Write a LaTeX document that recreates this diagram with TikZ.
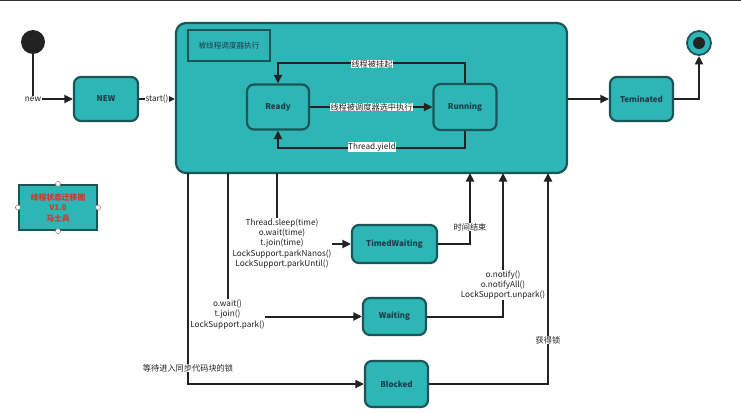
\documentclass[tikz,border=0pt]{standalone}
\usepackage{fontspec}
\setmainfont{Noto Sans CJK SC}
\usetikzlibrary{arrows.meta}
\definecolor{tealfill}{RGB}{46,182,182}
\definecolor{tealdark}{RGB}{26,86,88}
\definecolor{linec}{RGB}{34,34,34}
\definecolor{txtc}{RGB}{28,62,72}
\definecolor{redtxt}{RGB}{214,52,40}
\begin{document}
\begin{tikzpicture}[x=1pt,y=-1pt,
  state/.style={draw=tealdark, line width=2.2pt, fill=tealfill, rounded corners=7pt,
    font=\fontsize{8}{9}\selectfont\bfseries, text=txtc, inner sep=0pt},
  conn/.style={draw=linec, line width=2pt, -{Triangle[length=8.5pt,width=8pt]}},
  lbl/.style={fill=white, inner sep=0.6pt, font=\fontsize{8.2}{10.4}\selectfont, text=linec, align=center},
  handle/.style={circle, draw=gray, fill=white, line width=0.5pt, minimum size=5pt, inner sep=0pt},
]
\useasboundingbox (0,0) rectangle (741,412);
\fill[white] (0,0) rectangle (741,412);
\fill[black!80] (0,0) rectangle (741,1.5);

% start / end
\node[circle, fill=linec, minimum size=24pt, inner sep=0pt] (start) at (33,42) {};
\node[circle, draw=tealdark, line width=1.8pt, fill=tealfill, minimum size=24pt, inner sep=0pt] (end) at (699,43) {};
\node[circle, fill=linec, minimum size=12pt, inner sep=0pt] (enddot) at (699,43) {};

% main states
\node[state, minimum width=64pt, minimum height=44pt] (new) at (106,99) {NEW};
\node[state, rounded corners=10pt, minimum width=391pt, minimum height=150pt] (big) at (371.5,98) {};
\node[draw=tealdark, line width=2.2pt, fill=tealfill, minimum width=82pt, minimum height=31pt,
  font=\fontsize{7.6}{9}\selectfont, text=txtc, inner sep=0pt] (sched) at (229,45.5) {被线程调度器执行};
\node[state, minimum width=62pt, minimum height=45pt] (ready) at (278,107) {Ready};
\node[state, minimum width=63pt, minimum height=46pt] (running) at (465,107) {Running};
\node[state, minimum width=63pt, minimum height=44pt] (term) at (641.5,99) {Teminated};
\node[state, minimum width=85pt, minimum height=38pt] (timed) at (394.5,244) {TimedWaiting};
\node[state, minimum width=63pt, minimum height=37pt] (waiting) at (394.5,316.5) {Waiting};
\node[state, minimum width=63pt, minimum height=46pt] (blocked) at (396.5,384) {Blocked};

% version box
\node[draw=tealdark, line width=2.2pt, fill=tealfill, minimum width=78pt, minimum height=45pt,
  font=\fontsize{7.8}{10.5}\selectfont\bfseries, text=redtxt, align=center, inner sep=0pt] (ver) at (58,207.5)
  {线程状态迁移图\\V1.0\\马士兵};
\node[handle] (h1) at (ver.north) {};
\node[handle] (h2) at (ver.south) {};
\node[handle] (h3) at (ver.west) {};
\node[handle] (h4) at (ver.east) {};

% coordinates on big box bottom edge
\coordinate (b1) at (188,173);
\coordinate (b2) at (228,173);
\coordinate (b3) at (277,173);
\coordinate (b4) at (470,173);
\coordinate (b5) at (503,173);
\coordinate (b6) at (548,173);

% connectors
\draw[conn] (start) |- (new);
\draw[conn] (new.east) -- (new.east -| big.west);
\draw[conn] (term.west -| big.east) -- (term.west);
\draw[conn] (term) -| (end);
\draw[conn] (ready) -- (running);
\draw[conn] (running.north) -- ++(0,-20) -| (ready.north);
\draw[conn] (running.south) -- ++(0,17) -| (ready.south);

\draw[conn] (b1) |- (blocked);
\draw[conn] (b2) |- (waiting);
\draw[conn] (b3) |- (timed);
\draw[conn] (timed) -| (b4);
\draw[conn] (waiting) -| (b5);
\draw[conn] (blocked) -| (b6);

% labels
\node[lbl] (lnew) at (33,99) {new};
\node[lbl] (lstart) at (157,99) {start()};
\node[lbl] (lsusp) at (372,64) {线程被挂起};
\node[lbl] (lsel) at (371.5,107) {线程被调度器选中执行};
\node[lbl] (lyield) at (372,147) {Thread.yield};
\node[lbl] (lsleep) at (282,243.5) {Thread.sleep(time)\\o.wait(time)\\t.join(time)\\LockSupport.parkNanos()\\LockSupport.parkUntil()};
\node[lbl] (lwait) at (227.5,314.5) {o.wait()\\t.join()\\LockSupport.park()};
\node[lbl] (lsync) at (188,368) {等待进入同步代码块的锁};
\node[lbl] (ltime) at (470,227) {时间结束};
\node[lbl] (lnotify) at (503,285) {o.notify()\\o.notifyAll()\\LockSupport.unpark()};
\node[lbl] (llock) at (548,340) {获得锁};
\end{tikzpicture}
\end{document}
